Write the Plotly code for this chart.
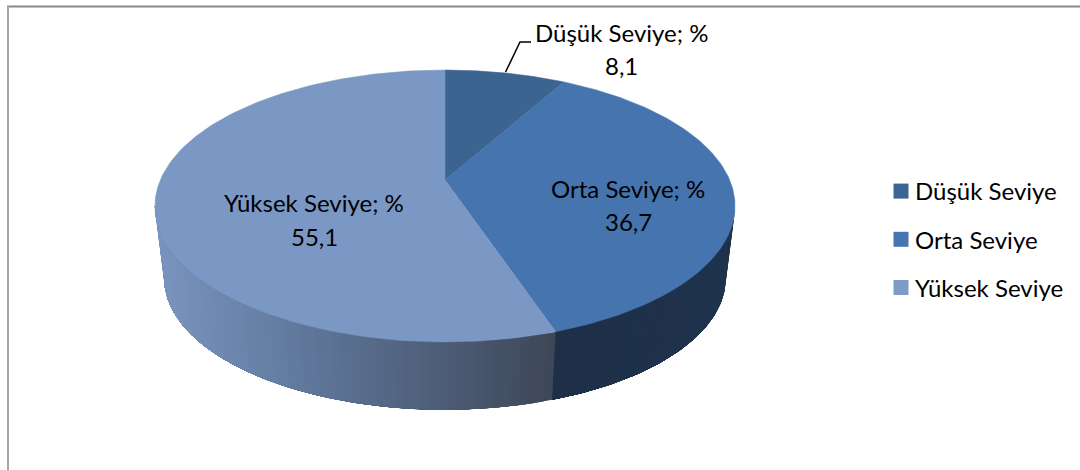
import numpy as np
import plotly.graph_objects as go

categories = ["Düşük Seviye", "Orta Seviye", "Yüksek Seviye"]
values = [8.1, 36.7, 55.1]
value_labels = ["8,1", "36,7", "55,1"]

colors = ["#3b6491", "#4674ae", "#7b98c5"]
legend_colors = ["#3c6595", "#4676b1", "#7e9bc8"]
FONT = "Lato"
FS = 24

# perspective projection of the pie disc
CX, CY, R, B, K = 445.0, 180.0, 284.7, 131.0, 0.191
S2, CY2 = 0.968, 253.0


def top(phi):
    u, v = np.sin(phi), -np.cos(phi)
    d = 1 - K * v
    return CX + R * u / d, CY + B * v / d


def bottom(phi):
    u, v = np.sin(phi), -np.cos(phi)
    d = 1 - K * v
    return CX + S2 * R * u / d, CY2 + S2 * B * v / d


def lerp_color(x, stops):
    xs = [s[0] for s in stops]
    c = [np.interp(x, xs, [s[1][i] for s in stops]) for i in range(3)]
    return "rgb(%d,%d,%d)" % tuple(int(round(a)) for a in c)


side_stops_high = [(155, (122, 148, 190)), (300, (96, 120, 156)),
                   (450, (76, 91, 117)), (556, (61, 70, 86))]
side_stops_mid = [(556, (30, 48, 72)), (735, (31, 50, 76))]

total = sum(values)
cum = np.cumsum([0] + values) / total * 2 * np.pi
phi_ext = np.pi - np.arccos(K)  # right silhouette
phi_ext_left = np.pi + np.arccos(K)  # left silhouette

fig = go.Figure()


def add_side(a, b, stops):
    # each strip runs on to the far end of the wall and is painted over by
    # the next one, so no seams show between neighbouring colours
    n = max(2, int((b - a) / np.radians(1.5)))
    edges = np.linspace(a, b, n + 1)
    for p0, p1 in zip(edges[:-1], edges[1:]):
        ph = np.linspace(p0, b, max(4, int((b - p0) / np.radians(1)) + 2))
        xt, yt = top(ph)
        xb, yb = bottom(ph[::-1])
        mid = top(np.array([(p0 + p1) / 2]))[0][0]
        col = lerp_color(float(mid), stops)
        fig.add_trace(go.Scatter(
            x=np.r_[xt, xb], y=np.r_[yt, yb], mode="lines", fill="toself",
            fillcolor=col, line=dict(width=0),
            hoverinfo="skip", showlegend=False))


# visible outer wall: from right silhouette round the front to the left one
add_side(phi_ext, cum[2], side_stops_mid)
add_side(cum[2], phi_ext_left, side_stops_high)

# top face wedges
for i, cat in enumerate(categories):
    ph = np.linspace(cum[i], cum[i + 1], 160)
    xr, yr = top(ph)
    fig.add_trace(go.Scatter(
        x=np.r_[CX, xr, CX], y=np.r_[CY, yr, CY], mode="lines", fill="toself",
        fillcolor=colors[i], line=dict(color=colors[i], width=0.5),
        name=cat, hoverinfo="skip", showlegend=False))

# leader line for the smallest slice
lx, ly = top(np.array([(cum[0] + cum[1]) / 2]))
fig.add_trace(go.Scatter(x=[lx[0], 520, 531], y=[ly[0] - 1, 42, 42], mode="lines",
                         line=dict(color="black", width=1.5), hoverinfo="skip", showlegend=False))

# legend entries
for i, cat in enumerate(categories):
    fig.add_trace(go.Scatter(
        x=[None], y=[None], mode="markers", name=cat, legendgroup=cat,
        marker=dict(symbol="square", size=15, color=legend_colors[i])))

label_pos = [(621, 32, 65.5), (628, 188.5, 221.5), (314, 202.5, 236.5)]
ann = []
for i, cat in enumerate(categories):
    x, y1, y2 = label_pos[i]
    ann.append(dict(x=x, y=y1, text=f"{cat}; %", showarrow=False, xanchor="center", yanchor="middle"))
    ann.append(dict(x=x, y=y2, text=value_labels[i], showarrow=False, xanchor="center", yanchor="middle"))

fig.update_layout(
    width=1080, height=470, margin=dict(l=0, r=0, t=0, b=0),
    paper_bgcolor="white", plot_bgcolor="white",
    font=dict(family=FONT, size=FS, color="black"),
    xaxis=dict(range=[0, 1080], visible=False, fixedrange=True),
    yaxis=dict(range=[470, 0], visible=False, fixedrange=True),
    annotations=ann,
    shapes=[
        dict(type="line", x0=7, x1=1080, y0=6.5, y1=6.5, line=dict(color="#8a8a8a", width=2)),
        dict(type="line", x0=8, x1=8, y0=6, y1=470, line=dict(color="#a6a6a6", width=2)),
    ],
    legend=dict(x=881 / 1080, y=1 - 169 / 470, xanchor="left", yanchor="top",
                tracegroupgap=14, bgcolor="rgba(0,0,0,0)", font=dict(family=FONT, size=FS)),
)
fig.write_html(
    "out.html",
    config={"displayModeBar": False},
    post_script="document.body.style.margin='0';document.documentElement.style.overflow='hidden';"
                "document.querySelectorAll('.legendtext').forEach(function(t){t.setAttribute('x','34');});",
)
